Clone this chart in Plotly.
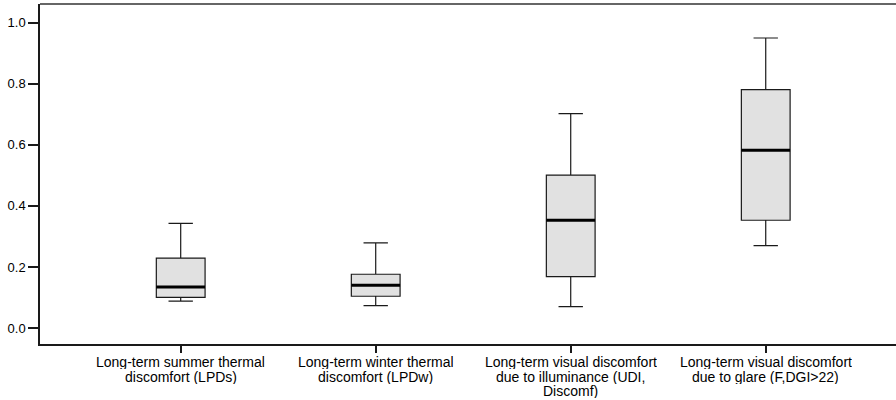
import plotly.graph_objects as go

categories = [
    "Long-term summer thermal<br>discomfort (LPDs)",
    "Long-term winter thermal<br>discomfort (LPDw)",
    "Long-term visual discomfort<br>due to illuminance (UDI,<br>Discomf)",
    "Long-term visual discomfort<br>due to glare (F,DGI&gt;22)",
]
lower_whisker = [0.088, 0.073, 0.070, 0.270]
q1 = [0.100, 0.104, 0.168, 0.353]
median = [0.134, 0.140, 0.353, 0.582]
q3 = [0.229, 0.176, 0.501, 0.781]
upper_whisker = [0.343, 0.279, 0.702, 0.950]
y_ticks = [0.0, 0.2, 0.4, 0.6, 0.8, 1.0]

box_width = 0.25
positions = list(range(len(categories)))

fig = go.Figure()
for i in positions:
    fig.add_trace(go.Box(
        x=[i],
        q1=[q1[i]], median=[median[i]], q3=[q3[i]],
        lowerfence=[lower_whisker[i]], upperfence=[upper_whisker[i]],
        width=box_width, whiskerwidth=0.5,
        fillcolor="#e1e1e1",
        line=dict(color="#1a1a1a", width=1.2),
        boxpoints=False, showlegend=False, hoverinfo="skip",
    ))
    fig.add_trace(go.Scatter(
        x=[i - box_width / 2, i + box_width / 2],
        y=[median[i], median[i]],
        mode="lines", line=dict(color="#000000", width=3),
        showlegend=False, hoverinfo="skip",
    ))

# category labels, one annotation per line for tight line spacing
annotations = []
line_shifts = [-18, -32.5, -47]
for i, label in enumerate(categories):
    for j, part in enumerate(label.split("<br>")):
        annotations.append(dict(
            x=i, xref="x", y=0, yref="paper",
            text=part, showarrow=False,
            xanchor="center", yanchor="middle", yshift=line_shifts[j],
            height=14, valign="middle", borderpad=0,
            font=dict(size=14, color="#000"),
        ))

fig.update_layout(
    width=896, height=400,
    margin=dict(l=40, r=0, t=4, b=56),
    plot_bgcolor="white", paper_bgcolor="white",
    font=dict(family="Liberation Sans, Arial, sans-serif", size=13, color="#000"),
    xaxis=dict(
        range=[-0.7215, 3.668], automargin=False,
        tickmode="array", tickvals=positions, ticktext=["" for _ in positions],
        showgrid=False, zeroline=False,
        showline=True, linecolor="#1a1a1a", linewidth=2,
        ticks="outside", ticklen=7, tickcolor="#1a1a1a", tickwidth=1.5,
    ),
    yaxis=dict(
        range=[-0.0524, 1.0613], automargin=False,
        tickmode="array", tickvals=y_ticks, ticktext=[f"{v:.1f}" for v in y_ticks],
        showgrid=False, zeroline=False,
        showline=True, linecolor="#1a1a1a", linewidth=1.5,
        ticks="outside", ticklen=10, tickcolor="#1a1a1a", tickwidth=1.5,
        tickfont=dict(size=13),
    ),
    annotations=annotations,
    shapes=[dict(type="line", xref="paper", yref="paper", x0=0, x1=1, y0=1, y1=1,
                 line=dict(color="#333333", width=1.5))],
)

fig.write_html(
    "out.html",
    config={"displayModeBar": False},
    post_script="document.body.style.margin='0';document.body.style.overflow='hidden';",
)
